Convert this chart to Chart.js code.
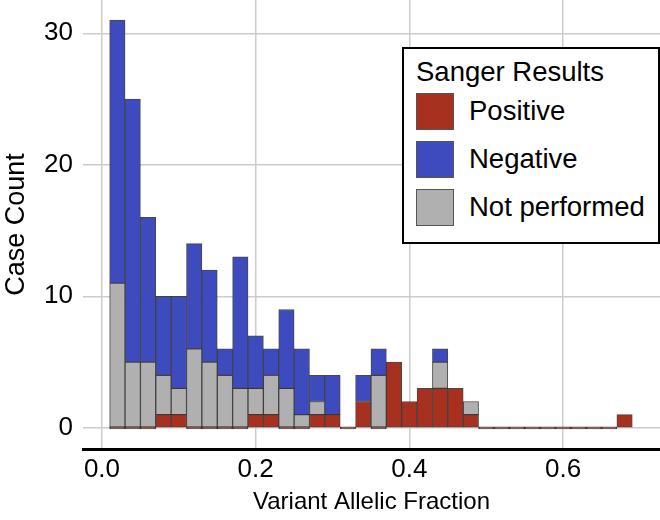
<!DOCTYPE html>
<html>
<head>
<meta charset="utf-8">
<script src="https://cdn.jsdelivr.net/npm/chart.js@4"></script>
<style>
  body { margin: 0; background: #fff; }
  #wrap { position: relative; width: 660px; height: 520px; }
  #legend {
    position: absolute; left: 402px; top: 47px; width: 254px; height: 193px;
    border: 2px solid #000; background: #fff;
    font-family: "Liberation Sans", Arial, sans-serif; color: #000;
  }
  #legend .title { font-size: 27.5px; line-height: 30px; margin: 8px 0 0 12px; }
  #legend .row { display: flex; align-items: center; height: 48px; margin-left: 12px; }
  #legend .sw { width: 36px; height: 35px; border: 1px solid #555; margin-right: 15px; }
  #legend .lab { font-size: 27.5px; }
</style>
</head>
<body>
<div id="wrap">
  <canvas id="histChart" width="660" height="520"></canvas>
  <div id="legend"></div>
</div>
<script>
// bin centers (variant allelic fraction), bin width 0.02
const binCenters = [0.02, 0.04, 0.06, 0.08, 0.10, 0.12, 0.14, 0.16, 0.18, 0.20,
                    0.22, 0.24, 0.26, 0.28, 0.30, 0.32, 0.34, 0.36, 0.38, 0.40,
                    0.42, 0.44, 0.46, 0.48, 0.50, 0.52, 0.54, 0.56, 0.58, 0.60,
                    0.62, 0.64, 0.66, 0.68];
const positive     = [0, 0, 0, 1, 1, 0, 0, 0, 0, 1, 1, 0, 0, 1, 1, 0, 2, 0, 5, 2, 3, 3, 3, 1, 0, 0, 0, 0, 0, 0, 0, 0, 0, 1];
const notPerformed = [11, 5, 5, 3, 2, 6, 5, 4, 3, 2, 3, 3, 1, 1, 0, 0, 0, 4, 0, 0, 0, 2, 0, 1, 0, 0, 0, 0, 0, 0, 0, 0, 0, 0];
const negative     = [20, 20, 11, 6, 7, 8, 7, 2, 10, 4, 2, 6, 5, 2, 3, 0, 2, 2, 0, 0, 0, 1, 0, 0, 0, 0, 0, 0, 0, 0, 0, 0, 0, 0];
const xTicks = [0.0, 0.2, 0.4, 0.6];
const yTicks = [0, 10, 20, 30];
const legendOrder = ['Positive', 'Negative', 'Not performed'];

const FONT = '"Liberation Sans", Arial, sans-serif';
const toPoints = vals => vals.map((v, i) => ({ x: binCenters[i], y: v }));

const ctx = document.getElementById('histChart').getContext('2d');
// stacked bottom to top: positive, not performed, negative
const chart = new Chart(ctx, {
    type: 'bar',
    data: {
        datasets: [
            { label: 'Positive', data: toPoints(positive), backgroundColor: '#A8301F', minBarLength: 2 },
            { label: 'Not performed', data: toPoints(notPerformed), backgroundColor: '#B0B0B0' },
            { label: 'Negative', data: toPoints(negative), backgroundColor: '#3D4BBE' }
        ]
    },
    options: {
        responsive: false,
        animation: false,
        layout: { padding: 0 },
        datasets: {
            bar: {
                barPercentage: 1.0,
                categoryPercentage: 1.0,
                borderColor: 'rgba(40,40,40,0.85)',
                borderWidth: 1,
                borderSkipped: false
            }
        },
        plugins: {
            legend: { display: false },
            tooltip: { enabled: false }
        },
        scales: {
            x: {
                type: 'linear',
                stacked: true,
                offset: false,
                min: -0.0247,
                max: 0.7261,
                afterBuildTicks: s => { s.ticks = xTicks.map(v => ({ value: v })); },
                afterFit: s => { s.height = 71; s.paddingLeft = 0; s.paddingRight = 0; },
                grid: { offset: false, color: '#cccccc', lineWidth: 1.5, drawTicks: false },
                border: { display: true, color: '#000', width: 3 },
                ticks: {
                    padding: 5,
                    color: '#000',
                    font: { family: FONT, size: 26 },
                    callback: v => Number(v).toFixed(1)
                },
                title: {
                    display: true,
                    text: 'Variant Allelic Fraction',
                    color: '#000',
                    font: { family: FONT, size: 24 },
                    padding: { top: 0, bottom: 3 }
                }
            },
            y: {
                stacked: true,
                min: -1.61,
                max: 32.53,
                afterBuildTicks: s => { s.ticks = yTicks.map(v => ({ value: v })); },
                afterFit: s => { s.width = 83; s.paddingTop = 0; s.paddingBottom = 0; },
                grid: { color: '#cccccc', lineWidth: 1.5, drawTicks: false },
                border: { display: false },
                ticks: {
                    padding: 10,
                    color: '#000',
                    font: { family: FONT, size: 26 }
                },
                title: {
                    display: true,
                    text: 'Case Count',
                    color: '#000',
                    font: { family: FONT, size: 27 },
                    padding: { top: 0, bottom: 0 }
                }
            }
        }
    }
});

// HTML legend with title, built from the datasets
const legend = document.getElementById('legend');
legend.innerHTML = '<div class="title">Sanger Results</div>';
legendOrder.forEach(name => {
    const ds = chart.data.datasets.find(d => d.label === name);
    const row = document.createElement('div');
    row.className = 'row';
    row.innerHTML = `<div class="sw" style="background:${ds.backgroundColor}"></div><div class="lab">${ds.label}</div>`;
    legend.appendChild(row);
});
</script>
</body>
</html>
